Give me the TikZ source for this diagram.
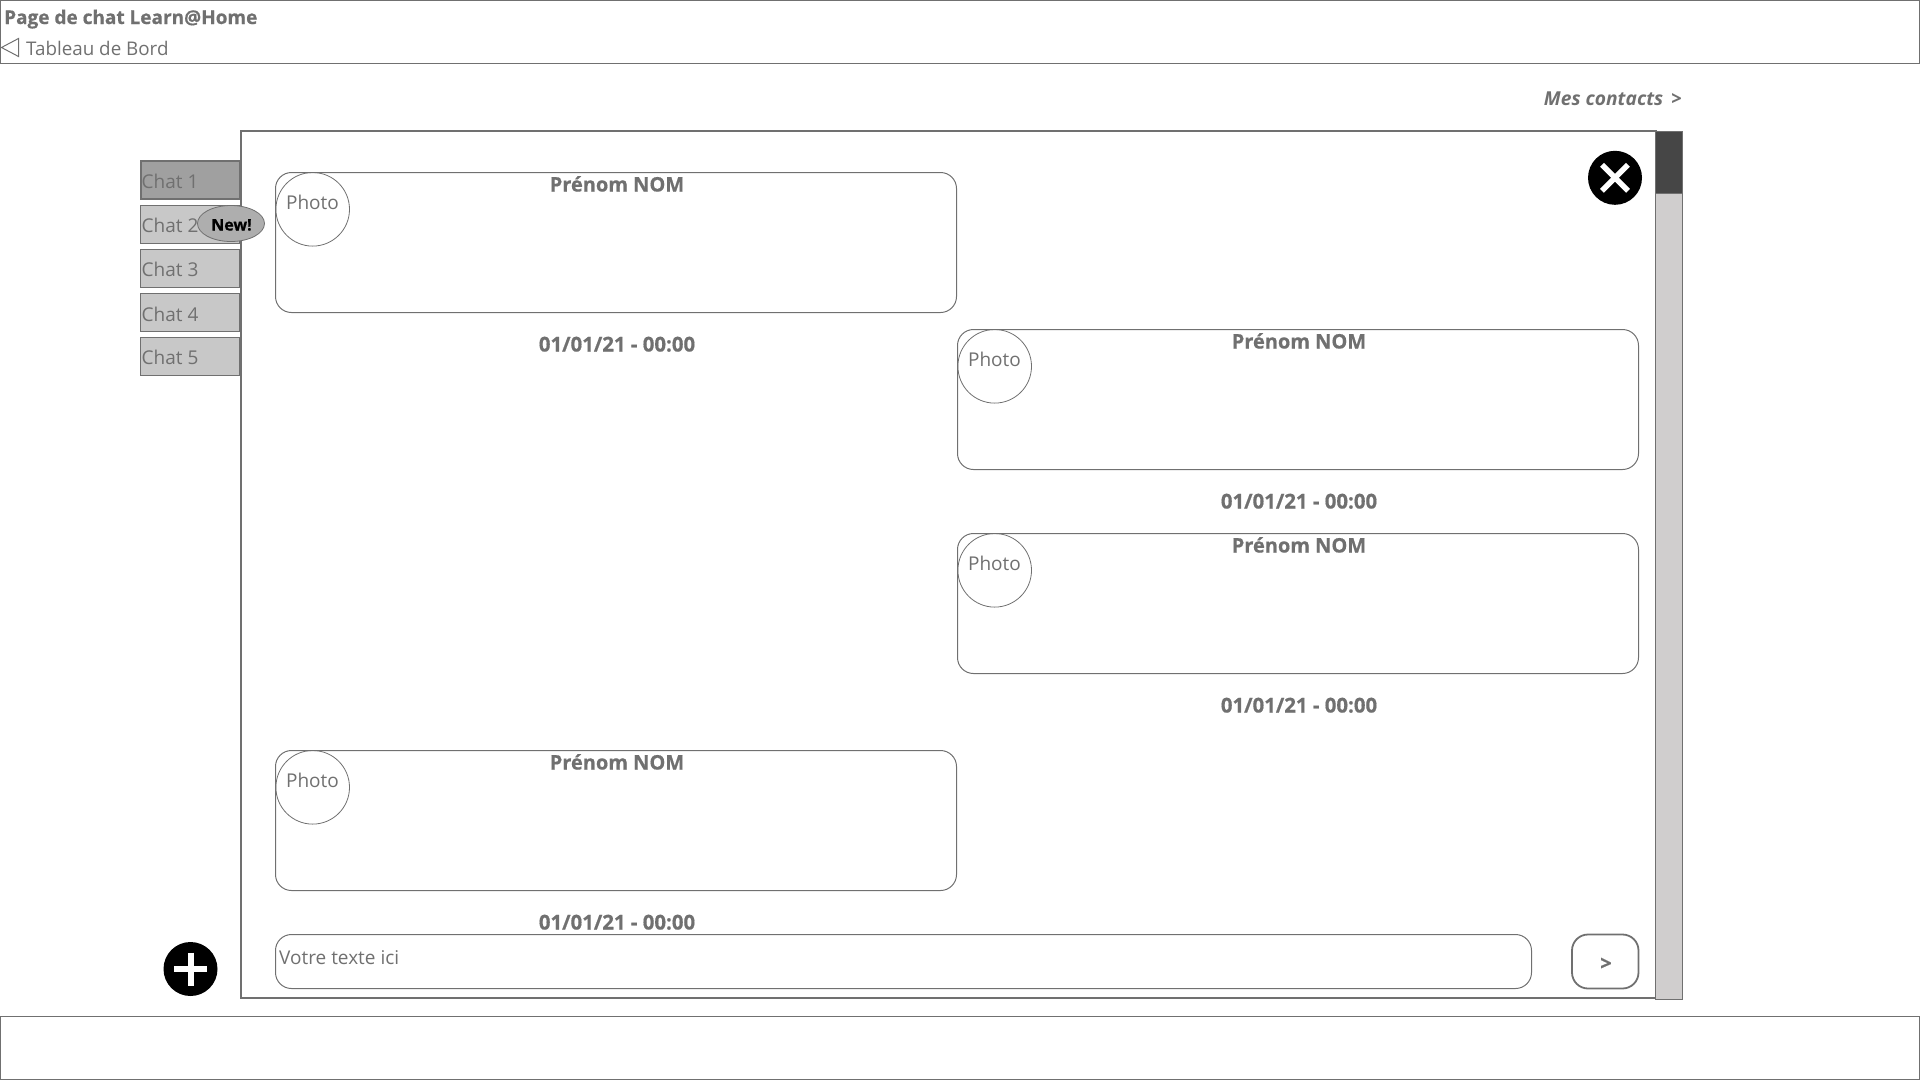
\documentclass[tikz,border=0pt]{standalone}
\usepackage{fontspec}
\setmainfont[BoldFeatures={FakeBold=0.6}]{Open Sans}
\usetikzlibrary{shapes.geometric}
\definecolor{wire}{HTML}{707070}
\definecolor{tabgrey}{HTML}{C8C8C8}
\definecolor{tabdark}{HTML}{A0A0A0}
\definecolor{trackgrey}{HTML}{D0CECE}
\definecolor{thumbgrey}{HTML}{464646}
\tikzset{
	wireline/.style={draw=wire, line width=1pt},
	framebox/.style={draw=wire, line width=2pt},
	bubble/.style={wireline, rounded corners=16pt},
	chattab/.style={wireline, fill=tabgrey},
	label/.style={text=wire, inner sep=0pt, font=\fontsize{#1}{#1}\selectfont},
	label/.default=19,
	boldlabel/.style={text=wire, inner sep=0pt, font=\fontsize{#1}{#1}\selectfont\bfseries},
	boldlabel/.default=20
}
% #1 name, #2 left, #3 top
\def\chatmsg(#1)(#2,#3){
	\draw[bubble] (#2, #3) rectangle ({#2+681}, {#3+140});
	\draw[wire, line width=0.8pt] ({#2+37.2}, {#3+36.8}) circle (36.8);
	\node[label, anchor=base] (#1photo) at ({#2+37}, {#3+37}) {Photo};
	\node[boldlabel, anchor=base] (#1name) at ({#2+341.5}, {#3+19}) {Prénom NOM};
	\node[boldlabel=20.4, anchor=base] (#1date) at ({#2+341.5}, {#3+179}) {01/01/21 - 00:00};
}

\begin{document}
\begin{tikzpicture}[x=1pt, y=-1pt]
	%%%%% START %%%%%
	\useasboundingbox (0, 0) rectangle (1920, 1080);

	\draw[wireline] (0.6, 0.6) rectangle (1919.4, 63);
	\draw[wireline] (0.6, 1016.4) rectangle (1919.4, 1079.4);
	\node[boldlabel=19, anchor=base west] (pagetitle) at (4, 24) {Page de chat Learn@Home};
	\draw[wire, line width=1pt] (18.5, 38.5) -- (1.5, 47.5) -- (18.5, 56.5) -- cycle;
	\node[label=18.8, anchor=base west] (backlink) at (26, 55) {Tableau de Bord};
	\node[boldlabel, anchor=base east, font=\fontsize{19.2}{19.2}\selectfont\bfseries\itshape] (contacts) at (1682, 105) {Mes contacts\hspace{3pt} >};

	\draw[framebox] (241, 131) rectangle (1656, 998);

	\draw[chattab, fill=tabdark, line width=2pt] (141, 161) rectangle (239.5, 198.5);
	\draw[chattab] (140.5, 205) rectangle (239.5, 243);
	\draw[chattab] (140.5, 249) rectangle (239.5, 287);
	\draw[chattab] (140.5, 293) rectangle (239.5, 331);
	\draw[chattab] (140.5, 337) rectangle (239.5, 375);
	\node[label=19, anchor=base west] (chatone) at (141.5, 188.5) {Chat 1};
	\node[label=19, anchor=base west] (chattwo) at (141.5, 232) {Chat 2};
	\node[label=19, anchor=base west] (chatthree) at (141.5, 276) {Chat 3};
	\node[label=19, anchor=base west] (chatfour) at (141.5, 321.5) {Chat 4};
	\node[label=19, anchor=base west] (chatfive) at (141.5, 364.5) {Chat 5};
	\draw[wire, line width=0.8pt, fill=tabdark!85!white] (231, 223.5) ellipse (33.5 and 18);
	\node[boldlabel=16, anchor=base, text=black] (newflag) at (231.5, 230.5) {New!};

	\chatmsg(msgone)(275.5,172.5)
	\chatmsg(msgtwo)(957.5,329.5)
	\chatmsg(msgthree)(957.5,533.5)
	\chatmsg(msgfour)(275.5,750.5)

	\draw[wire, line width=1pt, fill=trackgrey] (1655.5, 131) rectangle (1682.5, 999.5);
	\draw[wire, line width=1pt, fill=thumbgrey] (1655.5, 131) rectangle (1682.5, 193.5);

	\fill[black] (1615, 177.8) circle (27);
	\draw[white, line width=5.5pt] (1602, 164.8) -- (1628, 190.8);
	\draw[white, line width=5.5pt] (1628, 164.8) -- (1602, 190.8);

	\fill[black] (190.5, 969) circle (27);
	\draw[white, line width=6pt] (174, 969) -- (207, 969);
	\draw[white, line width=6pt] (190.5, 952.5) -- (190.5, 985.5);

	\draw[bubble] (275.5, 934.5) rectangle (1531.5, 988.5);
	\node[label, anchor=base west] (inputtext) at (279, 964) {Votre texte ici};
	\draw[bubble, line width=1.8pt] (1572, 934.5) rectangle (1638.5, 988.5);
	\node[boldlabel, anchor=center] (sendarrow) at (1606, 964) {>};
	%%%%% END %%%%%
\end{tikzpicture}
\end{document}
